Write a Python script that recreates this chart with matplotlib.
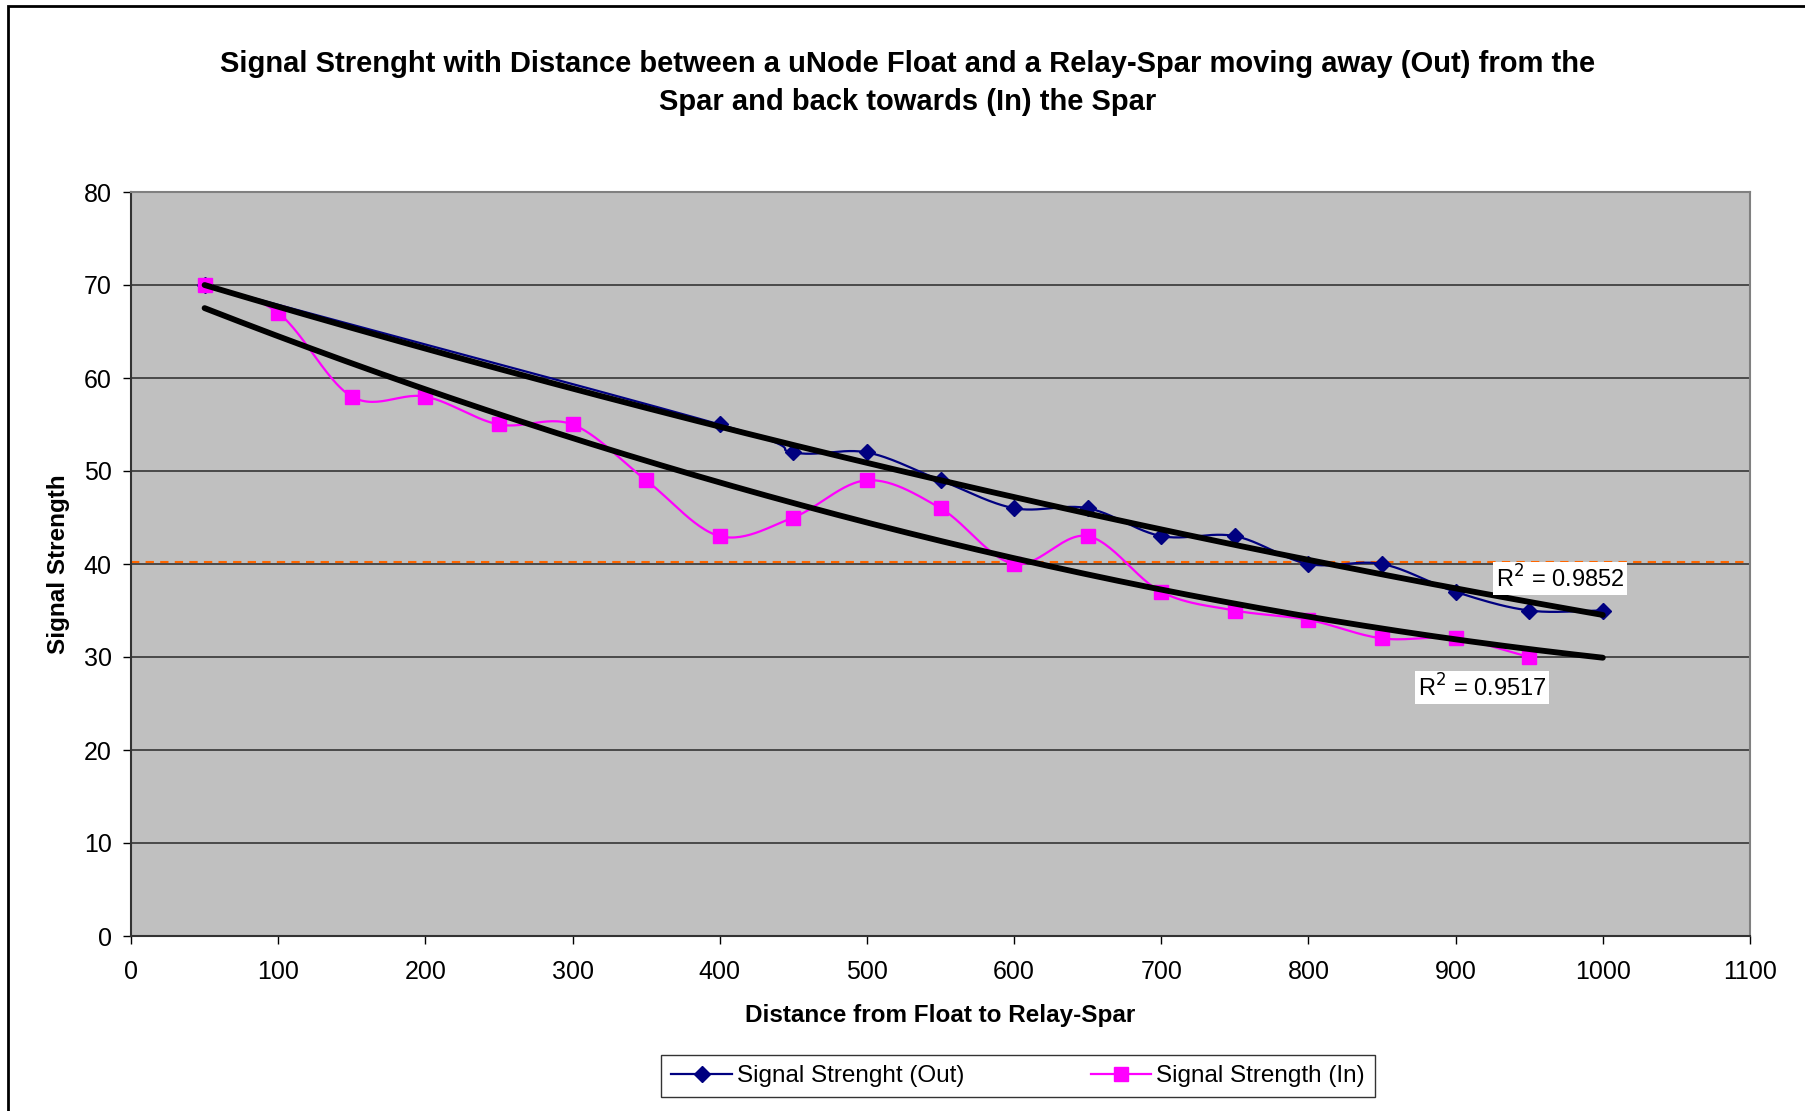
import numpy as np
import matplotlib
matplotlib.use("Agg")
import matplotlib.pyplot as plt
from matplotlib.patches import Rectangle

plt.rcParams['font.family'] = ['Liberation Sans', 'DejaVu Sans']

# data
dist_out = [50, 400, 450, 500, 550, 600, 650, 700, 750, 800, 850, 900, 950, 1000]
sig_out = [70, 55, 52, 52, 49, 46, 46, 43, 43, 40, 40, 37, 35, 35]
dist_in = [50, 100, 150, 200, 250, 300, 350, 400, 450, 500, 550, 600, 650, 700, 750, 800, 850, 900, 950]
sig_in = [70, 67, 58, 58, 55, 55, 49, 43, 45, 49, 46, 40, 43, 37, 35, 34, 32, 32, 30]
r2_labels = ["R$^2$ = 0.9852", "R$^2$ = 0.9517"]
threshold = 40.2
trend_x = [50, 1000]


# smooth line like excel (catmull-rom between the points)
def smooth(x, y, n=30):
    x = np.asarray(x, float)
    y = np.asarray(y, float)
    px = np.concatenate([[2*x[0]-x[1]], x, [2*x[-1]-x[-2]]])
    py = np.concatenate([[2*y[0]-y[1]], y, [2*y[-1]-y[-2]]])
    xs, ys = [], []
    t = np.linspace(0, 1, n)
    for i in range(1, len(px)-2):
        for p, out in ((px, xs), (py, ys)):
            p0, p1, p2, p3 = p[i-1], p[i], p[i+1], p[i+2]
            out.extend(0.5*((2*p1) + (-p0+p2)*t + (2*p0-5*p1+4*p2-p3)*t**2 + (-p0+3*p1-3*p2+p3)*t**3))
    return np.array(xs), np.array(ys)


# 2nd order polynomial trendline
def poly_trend(x, y):
    p = np.polyfit(x, y, 2)
    xx = np.linspace(trend_x[0], trend_x[1], 200)
    return xx, np.polyval(p, xx)


fig = plt.figure(figsize=(18.05, 11.11), dpi=100)
ax = fig.add_axes([131/1805, 1-936/1111, (1750-131)/1805, (936-192)/1111])
ax.set_facecolor('#C0C0C0')

# figure border
fig.patches.append(Rectangle((8/1805, -0.01), 1.05, 1-6/1111+0.01, transform=fig.transFigure,
                             fill=False, edgecolor='black', linewidth=2))

for v in range(10, 81, 10):
    ax.axhline(v, color='#404040', linewidth=1.3, zorder=1)
ax.axhline(threshold, color='#FF6600', linewidth=1.5, linestyle=(0, (4, 3)), zorder=2)

sx, sy = smooth(dist_out, sig_out)
ax.plot(sx, sy, color='#000080', linewidth=1.6, zorder=3)
ax.plot(dist_out, sig_out, linestyle='none', marker='D', markersize=8, color='#000080', zorder=4)
sx, sy = smooth(dist_in, sig_in)
ax.plot(sx, sy, color='#FF00FF', linewidth=1.6, zorder=3)
ax.plot(dist_in, sig_in, linestyle='none', marker='s', markersize=10.5, color='#FF00FF', zorder=4)

tx, ty = poly_trend(dist_out, sig_out)
ax.plot(tx, ty, color='black', linewidth=4.2, solid_capstyle='round', zorder=5)
tx, ty = poly_trend(dist_in, sig_in)
ax.plot(tx, ty, color='black', linewidth=4.2, solid_capstyle='round', zorder=5)

ax.text(971, 38.4, r2_labels[0], fontsize=17, ha='center', va='center', zorder=6,
        bbox=dict(facecolor='white', edgecolor='none', pad=2))
ax.text(918, 26.7, r2_labels[1], fontsize=17, ha='center', va='center', zorder=6,
        bbox=dict(facecolor='white', edgecolor='none', pad=2))

ax.set_xlim(0, 1100)
ax.set_ylim(0, 80)
ax.set_xticks(range(0, 1101, 100))
ax.set_yticks(range(0, 81, 10))
ax.tick_params(labelsize=18, length=6, width=1, color='black')
ax.tick_params(axis='x', pad=11)
ax.tick_params(axis='y', pad=8)
for s in ['top', 'right']:
    ax.spines[s].set_color('#808080')
    ax.spines[s].set_linewidth(1.5)
for s in ['left', 'bottom']:
    ax.spines[s].set_color('#333333')
    ax.spines[s].set_linewidth(1.5)

ax.set_xlabel('Distance from Float to Relay-Spar', fontsize=17.5, fontweight='bold', labelpad=15)
ax.set_ylabel('Signal Strength', fontsize=17.5, fontweight='bold', labelpad=10)
fig.text(0.503, 1-83/1111, 'Signal Strenght with Distance between a uNode Float and a Relay-Spar moving away (Out) from the\nSpar and back towards (In) the Spar',
         ha='center', va='center', fontsize=21, fontweight='bold', linespacing=1.45)

h1, = ax.plot([], [], color='#000080', marker='D', markersize=8, linewidth=1.6)
h2, = ax.plot([], [], color='#FF00FF', marker='s', markersize=10.5, linewidth=1.6)
leg = fig.legend([h1, h2], ['Signal Strenght (Out)', 'Signal Strength (In)'], ncol=2,
                 loc='center', bbox_to_anchor=(1018/1805, 1-1076/1111), fontsize=17.5,
                 frameon=True, fancybox=False, edgecolor='black', borderpad=0.4,
                 columnspacing=5.2, handlelength=2.5, handletextpad=0.2, borderaxespad=0)
leg.get_frame().set_linewidth(1)

fig.savefig('out.png', dpi=100)
